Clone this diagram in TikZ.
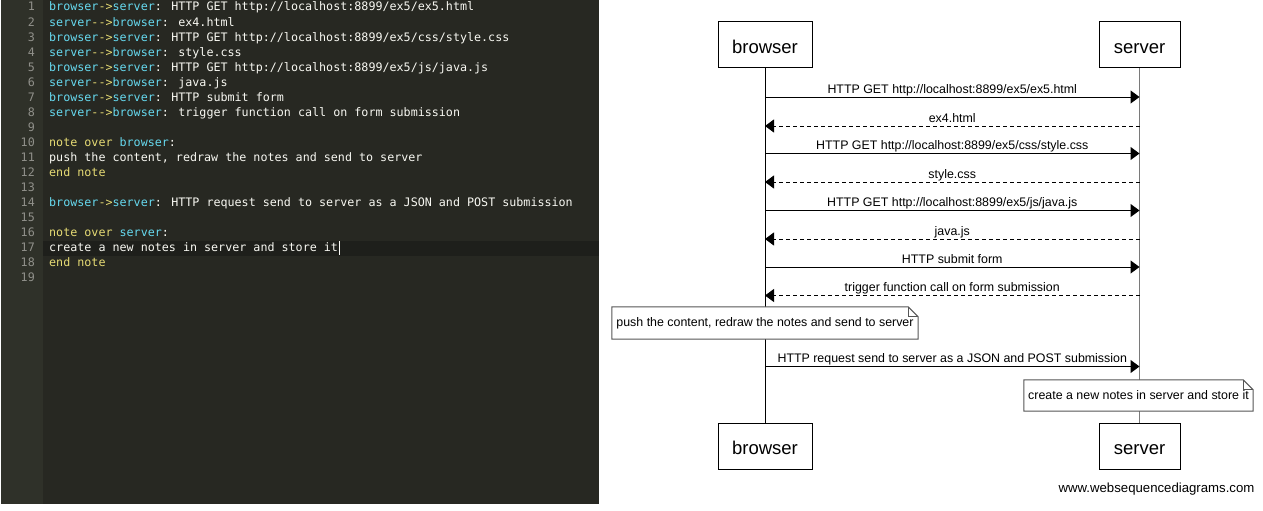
\documentclass[tikz,border=0pt]{standalone}
\usepackage{fontspec}
\setmainfont{Liberation Sans}
\newfontfamily\codefont{DejaVu Sans Mono}
\usetikzlibrary{arrows.meta}
\definecolor{edbg}{HTML}{272822}
\definecolor{gutbg}{HTML}{2F3129}
\definecolor{hlbg}{HTML}{1E1F1B}
\definecolor{lnum}{HTML}{90908A}
\definecolor{ctext}{HTML}{F8F8F2}
\definecolor{ccyan}{HTML}{66D9EF}
\definecolor{cyell}{HTML}{E6DB74}
\definecolor{srvline}{HTML}{7A7A7A}
\definecolor{notedraw}{HTML}{555555}
\newcommand{\kwc}[1]{\textcolor{ccyan}{#1}}
\newcommand{\kwy}[1]{\textcolor{cyell}{#1}}
\newcommand{\msgbs}{\kwc{browser}\kwy{->}\kwc{server}}
\newcommand{\msgsb}{\kwc{server}\kwy{-{}-{}>}\kwc{browser}}
\begin{document}
\begin{tikzpicture}[x=1pt,y=-1pt,
  codeline/.style={anchor=base west, inner sep=0pt, text=ctext, font=\codefont\fontsize{11.7}{14}\selectfont},
  lineno/.style={anchor=base east, inner sep=0pt, text=lnum, font=\codefont\fontsize{11.7}{14}\selectfont},
  actor/.style={draw, line width=1pt, fill=white, minimum height=46pt, inner sep=0pt, text height=16pt, text depth=0pt, font=\fontsize{18.5}{20}\selectfont},
  lbl/.style={font=\fontsize{12.4}{14}\selectfont, inner sep=0pt, anchor=base, yshift=4pt},
  msg/.style={line width=1pt, -{Triangle[length=9pt,width=13pt]}},
  reply/.style={msg, dash pattern=on 4pt off 3pt},
  notebox/.style={inner sep=0pt, font=\fontsize{12.4}{14}\selectfont},
  noteline/.style={draw=notedraw, line width=1pt, fill=white}
]
\useasboundingbox (0,0) rectangle (1263,511);
\fill[white] (0,0) rectangle (1263,511);
% ---------- editor panel ----------
\fill[edbg] (1,0) rectangle (599,504);
\fill[gutbg] (1,0) rectangle (43,504);
\fill[hlbg] (43,240.5) rectangle (599,255.5);
\foreach \i in {1,...,19}
  \node[lineno] (n\i) at (35,{11+15.05*(\i-1)}) {\i};
\node[codeline] (c1)  at (49,{11+15.05*0})  {\msgbs: HTTP GET http://localhost:8899/ex5/ex5.html};
\node[codeline] (c2)  at (49,{11+15.05*1})  {\msgsb: ex4.html};
\node[codeline] (c3)  at (49,{11+15.05*2})  {\msgbs: HTTP GET http://localhost:8899/ex5/css/style.css};
\node[codeline] (c4)  at (49,{11+15.05*3})  {\msgsb: style.css};
\node[codeline] (c5)  at (49,{11+15.05*4})  {\msgbs: HTTP GET http://localhost:8899/ex5/js/java.js};
\node[codeline] (c6)  at (49,{11+15.05*5})  {\msgsb: java.js};
\node[codeline] (c7)  at (49,{11+15.05*6})  {\msgbs: HTTP submit form};
\node[codeline] (c8)  at (49,{11+15.05*7})  {\msgsb: trigger function call on form submission};
\node[codeline] (c10) at (49,{11+15.05*9})  {\kwy{note over} \kwc{browser}:};
\node[codeline] (c11) at (49,{11+15.05*10}) {push the content, redraw the notes and send to server};
\node[codeline] (c12) at (49,{11+15.05*11}) {\kwy{end note}};
\node[codeline] (c14) at (49,{11+15.05*13}) {\msgbs: HTTP request send to server as a JSON and POST submission};
\node[codeline] (c16) at (49,{11+15.05*15}) {\kwy{note over} \kwc{server}:};
\node[codeline] (c17) at (49,{11+15.05*16}) {create a new notes in server and store it};
\node[codeline] (c18) at (49,{11+15.05*17}) {\kwy{end note}};
\draw[ctext!80, line width=0.8pt] ([xshift=1.5pt]c17.east |- 0,241) coordinate (cur1) -- ([xshift=1.5pt]c17.east |- 0,255) coordinate (cur2);
% ---------- sequence diagram ----------
\node[actor, minimum width=94pt] (bt) at (765,45) {browser};
\node[actor, minimum width=81pt] (st) at (1139.5,45) {server};
\node[actor, minimum width=94pt] (bb) at (765,446) {browser};
\node[actor, minimum width=81pt] (sb) at (1139.5,446) {server};
\draw[line width=1pt] (bt) -- (bb);
\draw[line width=1pt, srvline] (st) -- (sb);
\foreach \k/\y in {1/97,2/126,3/153.5,4/182,5/210.5,6/239,7/267,8/295.5,9/366.5}{
  \coordinate (b\k) at (765,\y);
  \coordinate (s\k) at (1139.5,\y);
}
\draw[msg]   (b1) -- (s1) node[lbl, midway] {HTTP GET http://localhost:8899/ex5/ex5.html};
\draw[reply] (s2) -- (b2) node[lbl, midway] {ex4.html};
\draw[msg]   (b3) -- (s3) node[lbl, midway] {HTTP GET http://localhost:8899/ex5/css/style.css};
\draw[reply] (s4) -- (b4) node[lbl, midway] {style.css};
\draw[msg]   (b5) -- (s5) node[lbl, midway] {HTTP GET http://localhost:8899/ex5/js/java.js};
\draw[reply] (s6) -- (b6) node[lbl, midway] {java.js};
\draw[msg]   (b7) -- (s7) node[lbl, midway] {HTTP submit form};
\draw[reply] (s8) -- (b8) node[lbl, midway] {trigger function call on form submission};
\draw[msg]   (b9) -- (s9) node[lbl, midway] {HTTP request send to server as a JSON and POST submission};
% notes
\node[notebox, minimum width=306pt, minimum height=32pt] (note1) at (765,323) {};
\draw[noteline] (note1.south west) -- (note1.north west) -- ([xshift=-10pt]note1.north east) -- ([yshift=-10pt]note1.north east) -- (note1.south east) -- cycle;
\draw[draw=notedraw, line width=1pt] ([xshift=-10pt]note1.north east) |- ([yshift=-10pt]note1.north east);
\node[notebox] (t1) at (note1.center) {push the content, redraw the notes and send to server};
\node[notebox, minimum width=229pt, minimum height=31pt] (note2) at (1138.5,395.5) {};
\draw[noteline] (note2.south west) -- (note2.north west) -- ([xshift=-10pt]note2.north east) -- ([yshift=-10pt]note2.north east) -- (note2.south east) -- cycle;
\draw[draw=notedraw, line width=1pt] ([xshift=-10pt]note2.north east) |- ([yshift=-10pt]note2.north east);
\node[notebox] (t2) at (note2.center) {create a new notes in server and store it};
\node[font=\fontsize{13.2}{15}\selectfont, inner sep=0pt, anchor=base] (wm) at (1156.5,492) {www.websequencediagrams.com};
\end{tikzpicture}
\end{document}
